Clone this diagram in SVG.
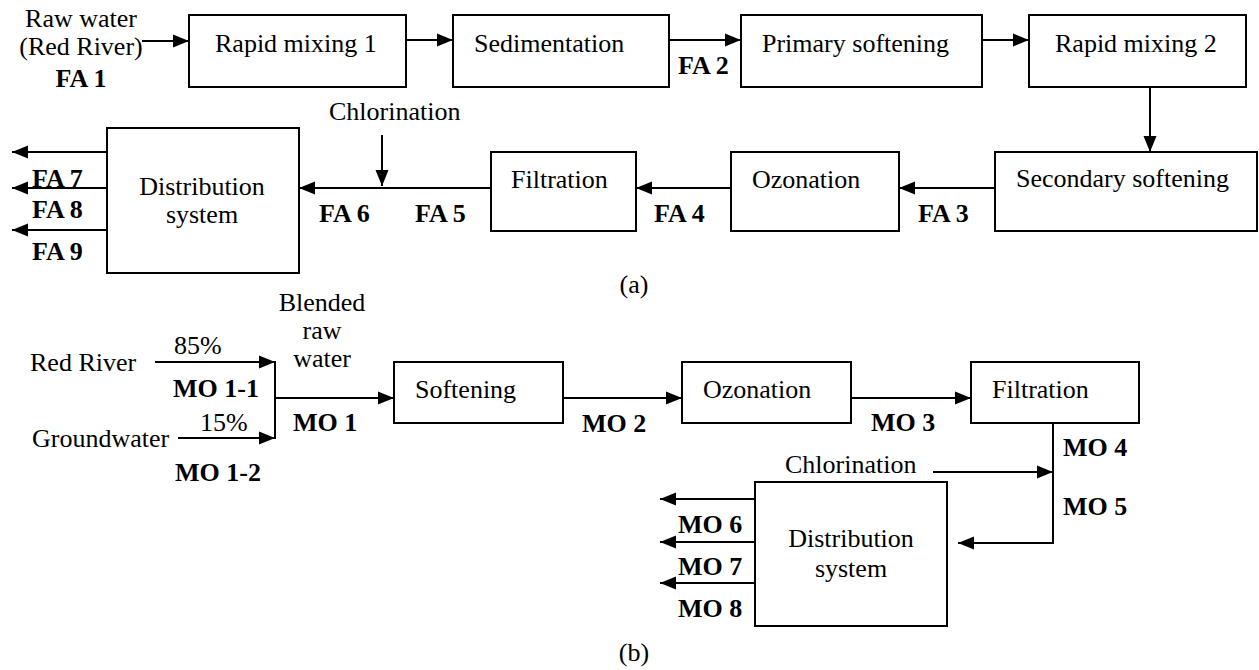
<svg xmlns="http://www.w3.org/2000/svg" width="1259" height="670" viewBox="0 0 1259 670">
<style>
text{font-family:"Liberation Serif",Tinos,"Times New Roman","DejaVu Serif",serif;font-size:26px;fill:#000}
.b{font-weight:bold}
.m{text-anchor:middle}
rect{fill:#fff;stroke:#000;stroke-width:2}
.c line,.c polyline{stroke:#000;stroke-width:2;fill:none}
.a{marker-end:url(#ah)}
</style>
<defs>
<marker id="ah" markerUnits="userSpaceOnUse" markerWidth="17" markerHeight="14" refX="16" refY="7" orient="auto"><path d="M0,0.5 L16,7 L0,13.5 z" fill="#000"/></marker>
</defs>
<rect width="1259" height="670" style="stroke:none"/>
<g class="c" id="connectors">
<line class="a" x1="142" y1="41" x2="189" y2="41"/>
<line class="a" x1="406" y1="40" x2="453" y2="40"/>
<line class="a" x1="669" y1="40" x2="741" y2="40"/>
<line class="a" x1="982" y1="40" x2="1029" y2="40"/>
<line class="a" x1="1150" y1="87" x2="1150" y2="152"/>
<line class="a" x1="995" y1="188" x2="899" y2="188"/>
<line class="a" x1="731" y1="188" x2="636" y2="188"/>
<line class="a" x1="491" y1="188" x2="299" y2="188"/>
<line class="a" x1="382" y1="135" x2="382" y2="186"/>
<line class="a" x1="107" y1="152" x2="12" y2="152"/>
<line class="a" x1="107" y1="188" x2="12" y2="188"/>
<line class="a" x1="107" y1="230" x2="12" y2="230"/>
<line class="a" x1="155" y1="362" x2="275" y2="362"/>
<line class="a" x1="178" y1="438" x2="275" y2="438"/>
<line x1="275" y1="361" x2="275" y2="439"/>
<line class="a" x1="275" y1="398" x2="394" y2="398"/>
<line class="a" x1="563" y1="398" x2="682" y2="398"/>
<line class="a" x1="851" y1="398" x2="971" y2="398"/>
<polyline class="a" points="1053,423 1053,543 958,543"/>
<line class="a" x1="933" y1="472" x2="1053" y2="472"/>
<line class="a" x1="755" y1="499" x2="660" y2="499"/>
<line class="a" x1="755" y1="542" x2="660" y2="542"/>
<line class="a" x1="755" y1="583" x2="660" y2="583"/>
</g>
<g id="raw-water">
<text class="m" x="81" y="27">Raw water</text>
<text class="m" x="81" y="55">(Red River)</text>
<text class="m b" x="81" y="87">FA 1</text>
</g>
<g id="rapid-mixing-1"><rect x="189" y="15" width="217" height="72"/><text x="215" y="52">Rapid mixing 1</text></g>
<g id="sedimentation"><rect x="453" y="15" width="216" height="72"/><text x="474" y="52">Sedimentation</text></g>
<g id="primary-softening"><rect x="741" y="15" width="241" height="72"/><text x="762" y="52">Primary softening</text></g>
<g id="rapid-mixing-2"><rect x="1029" y="15" width="217" height="72"/><text x="1055" y="52">Rapid mixing 2</text></g>
<g id="secondary-softening"><rect x="995" y="152" width="262" height="79"/><text x="1016" y="187">Secondary softening</text></g>
<g id="ozonation-a"><rect x="731" y="152" width="168" height="79"/><text x="752" y="188">Ozonation</text></g>
<g id="filtration-a"><rect x="491" y="152" width="145" height="79"/><text x="511" y="188">Filtration</text></g>
<g id="distribution-a"><rect x="107" y="128" width="192" height="145"/><text class="m" x="202" y="195">Distribution</text><text class="m" x="202" y="223">system</text></g>
<g id="labels-a">
<text class="b" x="678" y="74">FA 2</text>
<text class="b" x="918" y="222">FA 3</text>
<text class="b" x="654" y="222">FA 4</text>
<text class="b" x="415" y="222">FA 5</text>
<text class="b" x="319" y="222">FA 6</text>
<text class="b" x="32" y="187">FA 7</text>
<text class="b" x="32" y="218">FA 8</text>
<text class="b" x="32" y="260">FA 9</text>
<text x="329" y="120">Chlorination</text>
<text class="m" x="634" y="293">(a)</text>
</g>
<g id="sources-b">
<text x="30" y="371">Red River</text>
<text x="32" y="447">Groundwater</text>
<text x="174" y="354">85%</text>
<text x="200" y="431">15%</text>
<text class="b" x="173" y="397">MO 1-1</text>
<text class="b" x="175" y="481">MO 1-2</text>
<text class="m" x="322" y="311">Blended</text>
<text class="m" x="322" y="339">raw</text>
<text class="m" x="322" y="367">water</text>
<text class="b" x="293" y="431">MO 1</text>
</g>
<g id="softening-b"><rect x="394" y="362" width="169" height="61"/><text x="415" y="398">Softening</text></g>
<g id="ozonation-b"><rect x="682" y="362" width="169" height="61"/><text x="703" y="398">Ozonation</text></g>
<g id="filtration-b"><rect x="971" y="362" width="168" height="61"/><text x="992" y="398">Filtration</text></g>
<g id="distribution-b"><rect x="755" y="482" width="192" height="144"/><text class="m" x="851" y="547">Distribution</text><text class="m" x="851" y="577">system</text></g>
<g id="labels-b">
<text class="b" x="582" y="432">MO 2</text>
<text class="b" x="871" y="431">MO 3</text>
<text class="b" x="1063" y="456">MO 4</text>
<text class="b" x="1063" y="515">MO 5</text>
<text class="b" x="678" y="533">MO 6</text>
<text class="b" x="678" y="575">MO 7</text>
<text class="b" x="678" y="617">MO 8</text>
<text x="785" y="473">Chlorination</text>
<text class="m" x="634" y="661">(b)</text>
</g>
</svg>
